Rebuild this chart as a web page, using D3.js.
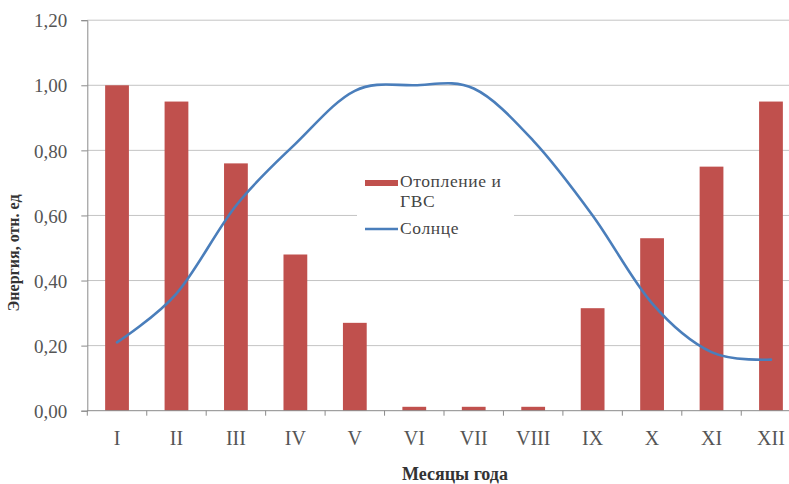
<!DOCTYPE html>
<html><head><meta charset="utf-8">
<script src="https://cdn.jsdelivr.net/npm/d3@7"></script>
<style>body{margin:0;background:#fff}svg{display:block}svg text{font-family:"Liberation Serif","Times New Roman",Tinos,"DejaVu Serif",serif}</style>
</head><body>
<svg id="c" width="789" height="484"></svg>
<script>
const months = ["I","II","III","IV","V","VI","VII","VIII","IX","X","XI","XII"];
const heating = [1.00,0.95,0.76,0.48,0.27,0.012,0.012,0.012,0.315,0.53,0.75,0.95];
const sun = [0.21,0.36,0.63,0.82,0.983,1.00,0.99,0.83,0.60,0.33,0.18,0.157];
const yTicks = [0,0.2,0.4,0.6,0.8,1.0,1.2];
const seriesNames = ["Отопление и ГВС","Солнце"];
const yTitle = "Энергия, отн. ед";
const xTitle = "Месяцы года";

const svg = d3.select("#c");
const x = d3.scaleBand().domain(months).range([87.3, 800.7]).paddingInner(0.6).paddingOuter(0.3);
const y = d3.scaleLinear().domain([0,1.2]).range([410.7, 20.2]);
const fmt = v => d3.format(".2f")(v).replace(".", ",");

// gridlines
svg.append("g").selectAll("line").data(yTicks.filter(d=>d>0)).join("line")
  .attr("x1",87.3).attr("x2",789).attr("y1",d=>y(d)).attr("y2",d=>y(d))
  .attr("stroke","#c4c4c4").attr("stroke-width",1);

// bars
svg.append("g").selectAll("rect").data(months).join("rect")
  .attr("x",d=>x(d)).attr("width",x.bandwidth())
  .attr("y",(d,i)=>y(heating[i])).attr("height",(d,i)=>y(0)-y(heating[i]))
  .attr("fill","#C0504D");

// line
const line = d3.line().x((d,i)=>x(months[i])+x.bandwidth()/2).y(d=>y(d)).curve(d3.curveCatmullRom.alpha(0));
svg.append("path").datum(sun).attr("d",line).attr("fill","none")
  .attr("stroke","#4A7EBB").attr("stroke-width",2.6).attr("stroke-linecap","round");

// y axis
const yAxis = d3.axisLeft(y).tickValues(yTicks).tickFormat(fmt).tickSize(6).tickPadding(14);
const ga = svg.append("g").attr("transform","translate(87.3,0)").call(yAxis);
ga.attr("font-family",null);
ga.select(".domain").attr("stroke","#8a8a8a");
ga.selectAll(".tick line").attr("stroke","#8a8a8a");
ga.selectAll("text").attr("font-size",19).attr("fill","#555").attr("dy","0.35em");

// x axis
const xb = d3.scaleLinear().domain([0,12]).range([87.3,800.7]);
const gx = svg.append("g").attr("transform",`translate(0,${y(0)})`);
gx.append("line").attr("x1",87.3).attr("x2",789).attr("stroke","#8a8a8a");
gx.selectAll("line.t").data(d3.range(0,13)).join("line").attr("class","t")
  .attr("x1",d=>xb(d)).attr("x2",d=>xb(d)).attr("y1",0).attr("y2",5).attr("stroke","#8a8a8a");
gx.selectAll("text").data(months).join("text")
  .attr("x",d=>x(d)+x.bandwidth()/2).attr("y",34.5).attr("text-anchor","middle")
  .attr("font-size",20).attr("fill","#555").text(d=>d);

// titles
svg.append("text").attr("transform","translate(19,253) rotate(-90)").attr("text-anchor","middle")
  .attr("font-size",16).attr("font-weight","bold").attr("fill","#333").text(yTitle);
svg.append("text").attr("x",455).attr("y",480).attr("text-anchor","middle")
  .attr("font-size",18).attr("font-weight","bold").attr("fill","#333").text(xTitle);

// legend
const lg = svg.append("g");
lg.append("rect").attr("x",357).attr("y",153).attr("width",157).attr("height",96).attr("fill","#fff");
lg.append("rect").attr("x",365).attr("y",180).attr("width",33).attr("height",6).attr("fill","#C0504D");
lg.append("text").attr("x",400).attr("y",186.5).attr("font-size",17.5).attr("letter-spacing",0.6).attr("fill","#444").text("Отопление и");
lg.append("text").attr("x",400).attr("y",206.5).attr("font-size",17.5).attr("letter-spacing",0.6).attr("fill","#444").text("ГВС");
lg.append("line").attr("x1",365).attr("x2",398).attr("y1",229).attr("y2",229).attr("stroke","#4A7EBB").attr("stroke-width",2.6);
lg.append("text").attr("x",400).attr("y",234).attr("font-size",17.5).attr("letter-spacing",0.6).attr("fill","#444").text(seriesNames[1]);
</script>
</body></html>
